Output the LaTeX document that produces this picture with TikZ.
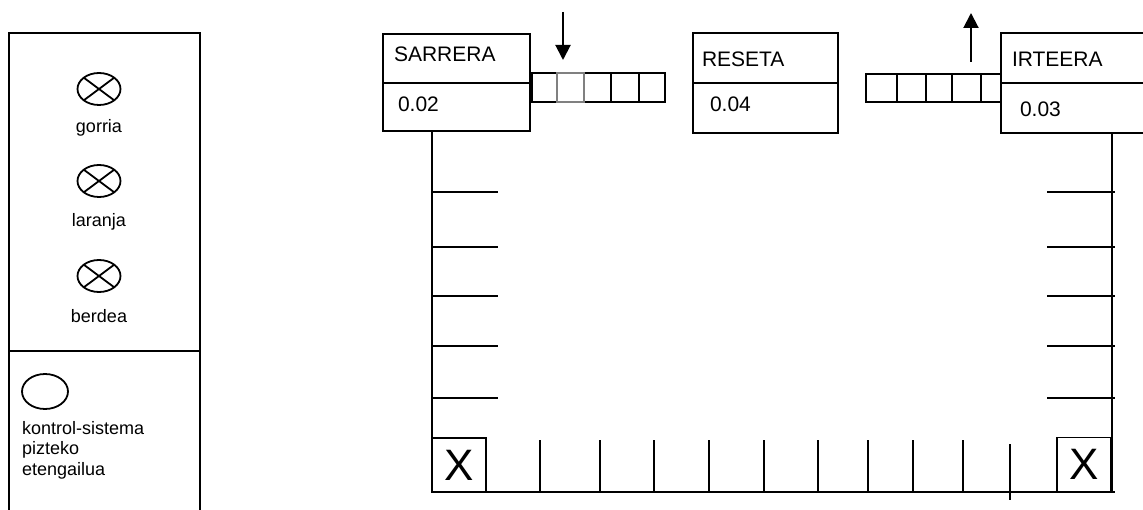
\documentclass[tikz,border=0pt]{standalone}
\usepackage{fontspec}
\setmainfont{Liberation Sans}
\usetikzlibrary{arrows.meta,shapes.geometric}
\begin{document}
\begin{tikzpicture}[x=1pt,y=-1pt,
  every node/.style={inner sep=0pt,outer sep=0pt},
  frame/.style={line width=2pt},
  thin/.style={line width=1.4pt},
  box/.style={draw,line width=2pt,rectangle,anchor=north west},
  lbl/.style={anchor=base west,font=\fontsize{21}{24}\selectfont},
  side/.style={anchor=base,font=\fontsize{18}{20.5}\selectfont},
  sidel/.style={anchor=base west,font=\fontsize{18}{20.5}\selectfont},
  lamp/.style={draw,line width=1.8pt,ellipse,minimum width=43pt,minimum height=32pt},
  xbox/.style={draw,line width=1.4pt,rectangle,minimum width=54pt,minimum height=54pt,font=\fontsize{44}{44}\selectfont},
  arr/.style={line width=2pt,-{Triangle[width=15pt,length=15pt]}}
]
\useasboundingbox (0,0) rectangle (1143,510);
\fill[white] (0,0) rectangle (1143,510);

% ---------- left panel ----------
\draw[frame] (9,530) -- (9,33) -- (200,33) -- (200,530);
\draw[frame] (9,351) -- (200,351);
\node[lamp] (l1) at (99,89) {};
\node[lamp] (l2) at (99,181) {};
\node[lamp] (l3) at (99,276) {};
\foreach \l in {l1,l2,l3}{
  \draw[line width=1.8pt] (\l.north west) -- (\l.south east);
  \draw[line width=1.8pt] (\l.north east) -- (\l.south west);
}
\node[side] (t1) at (99,133) {gorria};
\node[side] (t2) at (99,227) {laranja};
\node[side] (t3) at (99,323) {berdea};
\node[draw,line width=1.8pt,ellipse,minimum width=46pt,minimum height=35pt] (sw) at (45,391.5) {};
\node[sidel] (sw1) at (22,434) {kontrol-sistema};
\node[sidel] (sw2) at (22,454.5) {pizteko};
\node[sidel] (sw3) at (22,475) {etengailua};

% ---------- top boxes ----------
\node[box,minimum width=147pt,minimum height=97pt] (sar) at (383,34) {};
\draw[frame] (383,83) -- (530,83);
\node[lbl] (sart) at (394,62) {SARRERA};
\node[lbl] (sarv) at (398,112) {0.02};

\node[box,minimum width=145pt,minimum height=100pt] (res) at (693,33) {};
\draw[frame] (693,83) -- (838,83);
\node[lbl] (rest) at (702,67) {RESETA};
\node[lbl] (resv) at (710,112) {0.04};

% left array
\foreach \a/\b in {532/557,584/611,611/639,639/665}{
  \draw[line width=1.6pt] (\a,73) rectangle (\b,102);
}
\draw[line width=1.2pt,gray] (557,73) rectangle (584,102);
\coordinate (inA) at (563,12);
\coordinate (inB) at (563,60);
\draw[arr] (inA) -- (inB);

% right array
\foreach \a/\b in {866/897,897/926,926/952,952/981,981/1001}{
  \draw[line width=1.6pt] (\a,74) rectangle (\b,102);
}
\coordinate (outA) at (971,62);
\coordinate (outB) at (971,13);
\draw[arr] (outA) -- (outB);

\fill[white] (1001,33) rectangle (1150,133);
\draw[frame] (1150,33) -- (1001,33) -- (1001,133) -- (1150,133);
\draw[frame] (1001,83) -- (1150,83);
\node[lbl] (irt) at (1012,67) {IRTEERA};
\node[lbl] (irv) at (1020,117) {0.03};

% ---------- frame ----------
\coordinate (ltop) at (432,131);
\coordinate (lbot) at (432,492);
\coordinate (rtop) at (1112,133);
\coordinate (rbot) at (1112,492);
\draw[frame] (ltop) -- (lbot);
\draw[frame] (rtop) -- (rbot);
\foreach \y in {192,247,296,346,398}{
  \draw[frame] (432,\y) -- (498,\y);
  \draw[frame] (1047,\y) -- (1115,\y);
}
\node[xbox] (xl) at (459,465) {X};
\node[xbox] (xr) at (1084,464.5) {X};
\draw[thin] (486,492) -- (1057,492);
\draw[line width=2.6pt] (432,492) -- (486,492);
\draw[line width=2.6pt] (1057,492) -- (1115,492);
\foreach \x in {540,600,654,709,764,818,868,913,963}{
  \draw[thin] (\x,440) -- (\x,492);
}
\draw[thin] (1010,444) -- (1010,500);
\end{tikzpicture}
\end{document}
